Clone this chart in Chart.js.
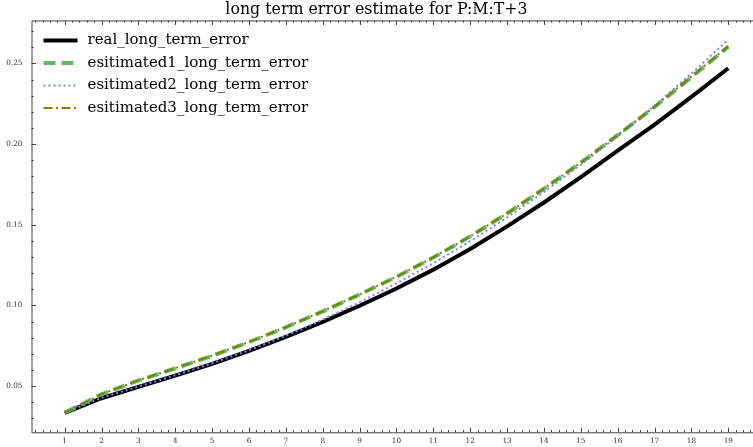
<!DOCTYPE html>
<html>
<head>
<meta charset="utf-8">
<script src="https://cdn.jsdelivr.net/npm/chart.js@4"></script>
<style>
html,body{margin:0;padding:0;background:#fff;overflow:hidden}
</style>
</head>
<body>
<canvas id="chart" width="753" height="447"></canvas>
<script>
const steps=[1,2,3,4,5,6,7,8,9,10,11,12,13,14,15,16,17,18,19];
const realError=[0.0335,0.0425,0.0495,0.0565,0.0638,0.0718,0.0805,0.0898,0.0998,0.1105,0.1222,0.1350,0.1490,0.1638,0.1795,0.1960,0.2120,0.2292,0.2470];
const est1Error=[0.0335,0.0450,0.0535,0.0610,0.0688,0.0773,0.0865,0.0963,0.1068,0.1177,0.1297,0.1428,0.1570,0.1723,0.1885,0.2055,0.2230,0.2415,0.2603];
const est2Error=[0.0335,0.0428,0.0497,0.0567,0.0641,0.0722,0.0812,0.0912,0.1020,0.1137,0.1262,0.1398,0.1545,0.1703,0.1872,0.2050,0.2238,0.2437,0.2647];
const est3Error=[0.0335,0.0451,0.0536,0.0611,0.0689,0.0774,0.0866,0.0964,0.1069,0.1178,0.1298,0.1429,0.1571,0.1724,0.1886,0.2056,0.2232,0.2418,0.2607];
const xTicks=[1,2,3,4,5,6,7,8,9,10,11,12,13,14,15,16,17,18,19];
const yTicks=[0.05,0.10,0.15,0.20,0.25];
const names=['real_long_term_error','esitimated1_long_term_error','esitimated2_long_term_error','esitimated3_long_term_error'];

const serif="'DejaVu Serif', serif";

function pts(arr){ return steps.map((s,i)=>({x:s,y:arr[i]})); }

// matplotlib look: frame on top, inward ticks, legend inside the axes
const frame={
  id:'frame',
  afterDraw(chart){
    const ctx=chart.ctx, a=chart.chartArea, xs=chart.scales.x, ys=chart.scales.y;
    ctx.save();
    ctx.strokeStyle='#444'; ctx.lineWidth=1;
    ctx.beginPath();
    ctx.moveTo(a.left+0.5,a.bottom); ctx.lineTo(a.left+0.5,a.top+0.5); ctx.lineTo(a.right,a.top+0.5);
    ctx.moveTo(a.left,a.bottom+0.5); ctx.lineTo(a.right,a.bottom+0.5);
    for(let k=Math.ceil(xs.min*5);k<=Math.floor(xs.max*5);k++){
      const px=Math.round(xs.getPixelForValue(k/5))+0.5, len=k%5===0?4.5:2.2;
      ctx.moveTo(px,a.bottom); ctx.lineTo(px,a.bottom-len);
      ctx.moveTo(px,a.top); ctx.lineTo(px,a.top+len);
    }
    for(let k=Math.ceil(ys.min*100);k<=Math.floor(ys.max*100);k++){
      const py=Math.round(ys.getPixelForValue(k/100))+0.5, len=k%5===0?4.5:2.2;
      ctx.moveTo(a.left,py); ctx.lineTo(a.left+len,py);
    }
    ctx.stroke();

    // legend
    ctx.font='15px '+serif;
    ctx.textBaseline='middle';
    chart.data.datasets.forEach((ds,i)=>{
      const y=a.top+20+i*22.5;
      ctx.beginPath();
      ctx.strokeStyle=ds.borderColor; ctx.lineWidth=ds.borderWidth;
      ctx.setLineDash(ds.borderDash||[]);
      ctx.moveTo(a.left+12,y); ctx.lineTo(a.left+46,y);
      ctx.stroke();
      ctx.setLineDash([]);
      ctx.fillStyle='#000';
      ctx.fillText(ds.label,a.left+56,y);
    });
    ctx.restore();
  }
};

new Chart(document.getElementById('chart'),{
  type:'line',
  data:{datasets:[
    {label:names[0],data:pts(realError),borderColor:'#000',borderWidth:4,order:4},
    {label:names[1],data:pts(est1Error),borderColor:'#63b863',borderWidth:4,borderDash:[12,6],order:3},
    {label:names[2],data:pts(est2Error),borderColor:'#8080ff',borderWidth:2,borderDash:[2,3],order:2},
    {label:names[3],data:pts(est3Error),borderColor:'#7f7f00',borderWidth:2,borderDash:[9,3.5,2,3.5],order:1}
  ]},
  options:{
    responsive:false,
    animation:false,
    devicePixelRatio:1,
    layout:{padding:0},
    elements:{point:{radius:0},line:{tension:0,fill:false}},
    plugins:{
      legend:{display:false},
      tooltip:{enabled:false},
      title:{display:true,text:'long term error estimate for P:M:T+3',color:'#000',
        font:{family:serif,size:15.8,weight:'normal'},padding:{top:0.5,bottom:1}}
    },
    scales:{
      x:{type:'linear',min:0.1,max:19.67,
        grid:{display:false,drawTicks:false},border:{display:false},
        afterBuildTicks:s=>{s.ticks=xTicks.map(v=>({value:v}));},
        afterFit:s=>{s.height=14.7;},
        ticks:{autoSkip:false,maxRotation:0,padding:4,color:'#333',font:{family:serif,size:7.3},callback:v=>String(v)}},
      y:{type:'linear',min:0.0214,max:0.2766,
        grid:{display:false,drawTicks:false},border:{display:false},
        afterBuildTicks:s=>{s.ticks=yTicks.map(v=>({value:v}));},
        afterFit:s=>{s.width=31.5;},
        ticks:{padding:9,color:'#333',font:{family:serif,size:7.3},callback:v=>v.toFixed(2)}}
    }
  },
  plugins:[frame]
});
</script>
</body>
</html>
